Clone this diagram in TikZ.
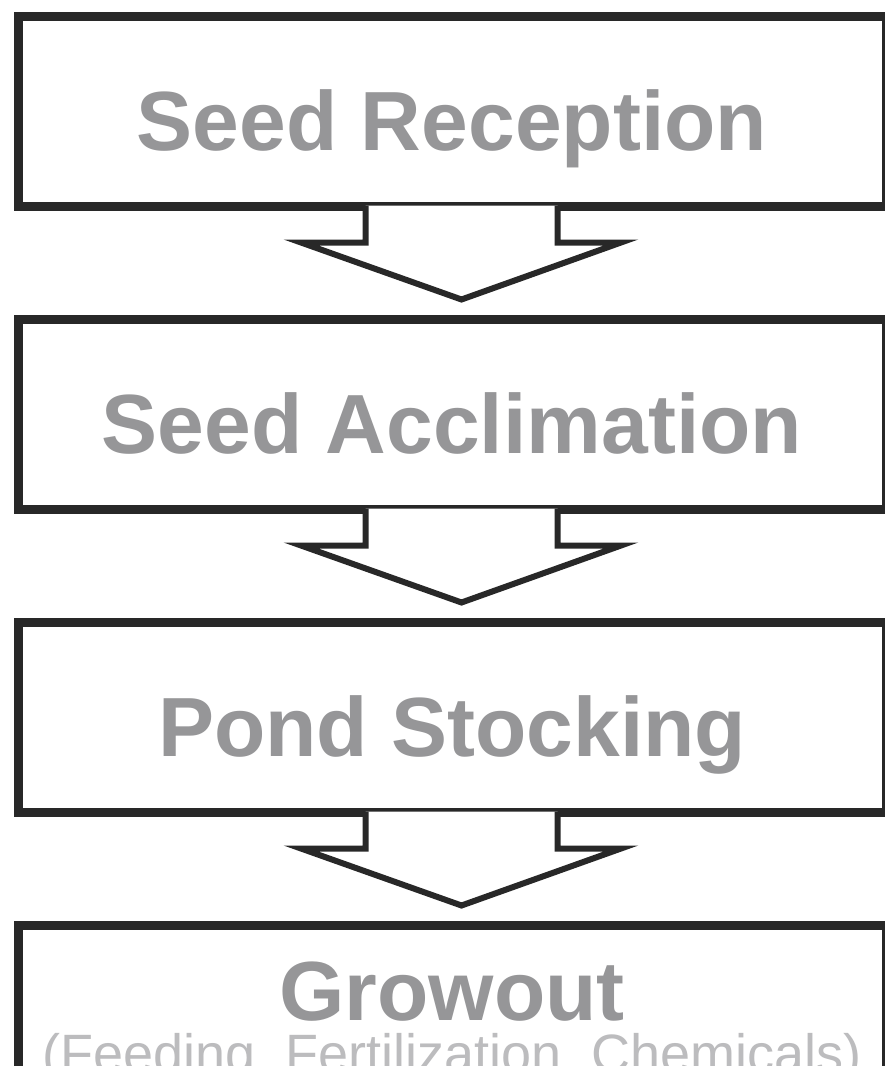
\documentclass[tikz,border=0pt]{standalone}
\usepackage{fontspec}
\setmainfont{Liberation Sans}
\usepackage{xcolor}
\usepackage{tikz}
\usetikzlibrary{positioning}

\definecolor{framegray}{RGB}{40,40,40}
\definecolor{labelgray}{RGB}{150,150,152}
\definecolor{notegray}{RGB}{188,188,190}

\tikzset{
  stepbox/.style={draw=framegray, line width=9pt, fill=white, rectangle,
    minimum width=868pt, minimum height=190pt, inner sep=0pt,
    text=labelgray, font=\fontsize{84pt}{90pt}\selectfont\bfseries,
    text height=78pt, text depth=0pt},
  notetext/.style={text=notegray, font=\fontsize{54pt}{60pt}\selectfont, inner sep=0pt},
  flowarrow/.style={draw=framegray, fill=white, line width=6pt, line join=miter}
}

\begin{document}
\begin{tikzpicture}[x=1pt, y=1pt, node distance=303pt, on grid]
    \useasboundingbox (0,0) rectangle (884,-1066);

    \node[stepbox] (reception) at (452,-111) {Seed Reception};
    \node[stepbox] (acclimation) [below=of reception] {Seed Acclimation};
    \node[stepbox] (stocking) [below=of acclimation] {Pond Stocking};
    \node[stepbox, text height=0pt] (growout) [below=of stocking] {Growout};
    \node[notetext, anchor=base] (growoutnote) at ([yshift=-52pt]growout.base) {(Feeding, Fertilization, Chemicals)};

    % block arrows between the steps
    \foreach \from/\to in {reception/acclimation, acclimation/stocking, stocking/growout}
      \filldraw[flowarrow]
        ([shift={(-86.5,5)}]\from.south) -- ([shift={(-86.5,-32)}]\from.south)
        -- ([shift={(-151,-32)}]\from.south) -- ([shift={(9.5,15)}]\to.north)
        -- ([shift={(169,-32)}]\from.south) -- ([shift={(105.5,-32)}]\from.south)
        -- ([shift={(105.5,5)}]\from.south);

\end{tikzpicture}
\end{document}
